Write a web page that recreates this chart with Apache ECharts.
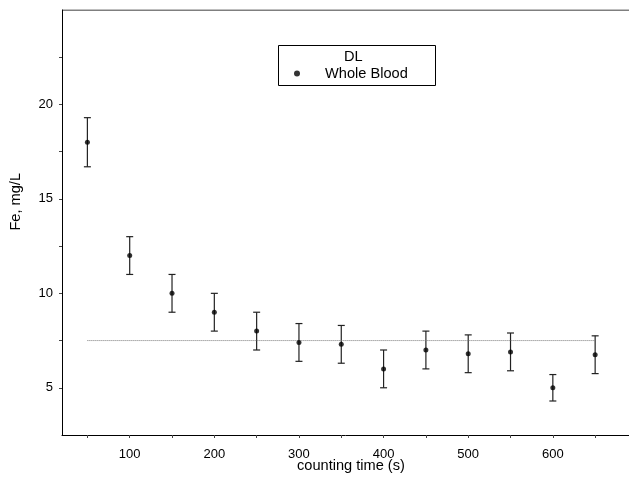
<!DOCTYPE html>
<html>
<head>
  <meta charset="UTF-8">
  <title>DL Whole Blood</title>
  <script src="https://cdn.jsdelivr.net/npm/echarts@6/dist/echarts.min.js"></script>
  <style>
    body { margin: 0; padding: 0; background: #fff; }
    #chart { width: 629px; height: 477px; }
  </style>
</head>
<body>
  <div id="chart"></div>
  <script>
    // counting time (s)
    var times = [50, 100, 150, 200, 250, 300, 350, 400, 450, 500, 550, 600, 650];
    // Fe, mg/L
    var fe = [18, 12, 10, 9, 8, 7.4, 7.3, 6, 7, 6.8, 6.9, 5, 6.75];
    var errLow = [16.7, 11, 9, 8, 7, 6.4, 6.3, 5, 6, 5.8, 5.9, 4.3, 5.75];
    var errHigh = [19.3, 13, 11, 10, 9, 8.4, 8.3, 7, 8, 7.8, 7.9, 5.7, 7.75];
    // detection limit line
    var dlX = [50, 650];
    var dlY = 7.5;
    // tick labels
    var xTicks = [50, 100, 150, 200, 250, 300, 350, 400, 450, 500, 550, 600, 650];
    var xLabels = [100, 200, 300, 400, 500, 600];
    var yTicks = [5, 7.5, 10, 12.5, 15, 17.5, 20, 22.5];
    var yLabels = [5, 10, 15, 20];

    var font = 'Liberation Sans, Arial, sans-serif';

    var points = times.map(function (t, i) { return [t, fe[i]]; });
    var bars = times.map(function (t, i) { return [t, errLow[i], errHigh[i]]; });

    var chart = echarts.init(document.getElementById('chart'), null, { renderer: 'canvas' });

    chart.setOption({
      animation: false,
      backgroundColor: '#fff',
      grid: { left: 62, right: 0, top: 10, bottom: 42, containLabel: false },
      legend: {
        left: 294, top: 66,
        itemWidth: 6, itemHeight: 6, itemGap: 0,
        padding: 0,
        textStyle: { fontFamily: font, fontSize: 14.6, color: '#000', padding: [0, 0, 0, 20] },
        data: [{ name: 'Whole Blood', icon: 'circle', itemStyle: { color: '#000' } }]
      },
      graphic: [
        {
          type: 'rect', left: 276, top: 43,
          shape: { width: 157, height: 40 },
          style: { fill: 'none', stroke: '#000', lineWidth: 1 }
        },
        {
          type: 'text', left: 344, top: 49,
          style: { text: 'DL', fontFamily: font, fontSize: 14.6, fill: '#000' }
        },
        {
          type: 'text', left: 8, top: 173, rotation: Math.PI / 2,
          style: { text: 'Fe, mg/L', fontFamily: font, fontSize: 14.6, fill: '#000' }
        },
        {
          type: 'text', left: 297, top: 458,
          style: { text: 'counting time (s)', fontFamily: font, fontSize: 14.6, fill: '#000' }
        }
      ],
      xAxis: {
        type: 'value', min: 20, max: 690,
        axisLine: { show: true, lineStyle: { color: '#000', width: 1 } },
        axisTick: { show: true, inside: false, length: 3, customValues: xTicks, lineStyle: { color: '#444' } },
        axisLabel: {
          fontFamily: font, fontSize: 13, color: '#000', margin: 13,
          customValues: xLabels
        },
        splitLine: { show: false }
      },
      yAxis: {
        type: 'value', min: 2.5, max: 25,
        axisLine: { show: true, lineStyle: { color: '#000', width: 1 } },
        axisTick: { show: true, inside: false, length: 3, customValues: yTicks, lineStyle: { color: '#444' } },
        axisLabel: {
          fontFamily: font, fontSize: 13, color: '#000', margin: 9,
          customValues: yLabels
        },
        splitLine: { show: false }
      },
      series: [
        {
          name: 'top frame',
          type: 'line',
          data: [[20, 25], [690, 25]],
          symbol: 'none', silent: true,
          lineStyle: { color: '#000', width: 1.2 }
        },
        {
          name: 'DL line',
          type: 'line',
          data: [[dlX[0], dlY], [dlX[1], dlY]],
          symbol: 'none', silent: true,
          lineStyle: { color: '#777', width: 1, type: [1, 1] }
        },
        {
          name: 'error',
          type: 'custom',
          data: bars,
          renderItem: function (params, api) {
            var x = api.value(0);
            var lo = api.coord([x, api.value(1)]);
            var hi = api.coord([x, api.value(2)]);
            var cap = 3.5;
            var st = { stroke: '#222', lineWidth: 1.2 };
            return {
              type: 'group',
              children: [
                { type: 'line', shape: { x1: lo[0], y1: lo[1], x2: hi[0], y2: hi[1] }, style: st },
                { type: 'line', shape: { x1: lo[0] - cap, y1: lo[1], x2: lo[0] + cap, y2: lo[1] }, style: st },
                { type: 'line', shape: { x1: hi[0] - cap, y1: hi[1], x2: hi[0] + cap, y2: hi[1] }, style: st }
              ]
            };
          },
          z: 2
        },
        {
          name: 'Whole Blood',
          type: 'scatter',
          data: points,
          symbol: 'circle', symbolSize: 5,
          itemStyle: { color: '#000' },
          z: 3
        }
      ]
    });
  </script>
</body>
</html>
